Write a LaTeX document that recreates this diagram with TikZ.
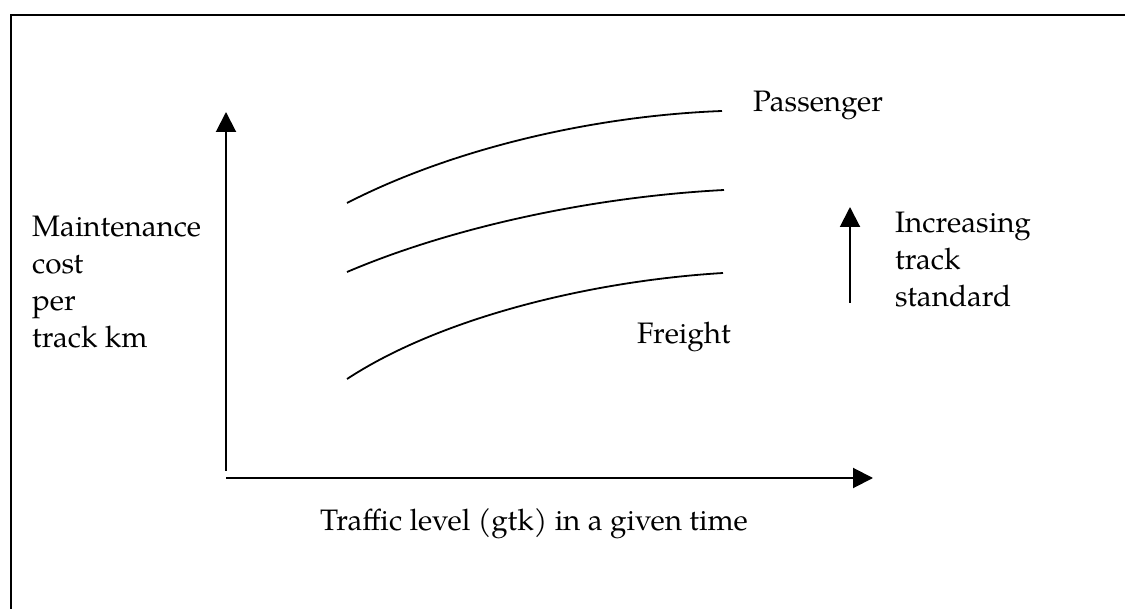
\documentclass[tikz,border=0pt]{standalone}
\usepackage{fontspec}
\setmainfont{TeX Gyre Pagella}
\usetikzlibrary{arrows.meta}
\tikzset{
  axis/.style={line width=2pt, -{Triangle[length=20pt,width=20pt]}},
  curve/.style={line width=1.8pt},
  lbl/.style={anchor=base west, inner sep=0pt, font=\fontsize{29.6}{37}\selectfont},
}
\begin{document}
\begin{tikzpicture}[x=1pt,y=-1pt]
  \useasboundingbox (0,0) rectangle (1125,609);
  \clip (0,0) rectangle (1125,609);
  % outer frame
  \draw[line width=2.4pt] (11,15) rectangle (1140,640);

  % axes
  \coordinate (o) at (226,478);
  \coordinate (ytop) at (226,112);
  \coordinate (xend) at (873,478);
  \coordinate (ybot) at (226,471);
  \draw[axis] (ybot) -- (ytop);
  \draw[axis] (o) -- (xend);

  % cost curves, one per track standard
  \coordinate (pa) at (347,203);  \coordinate (pb) at (722,111);
  \coordinate (ma) at (347,272);  \coordinate (mb) at (724,190);
  \coordinate (fa) at (347,379);  \coordinate (fb) at (723,273);
  \draw[curve] (pa) .. controls (450,150) and (590,116) .. (pb);
  \draw[curve] (ma) .. controls (450,228) and (590,197) .. (mb);
  \draw[curve] (fa) .. controls (440,318) and (590,281) .. (fb);

  % direction of increasing standard
  \coordinate (sa) at (850,303);
  \coordinate (sb) at (850,207);
  \draw[axis] (sa) -- (sb);

  % labels
  \node[lbl] (ylab) at (32,237) {\begin{tabular}[t]{@{}l@{}}Maintenance\\cost\\per\\track km\end{tabular}};
  \node[lbl] (stdlab) at (895,233) {\begin{tabular}[t]{@{}l@{}}Increasing\\track\\standard\end{tabular}};
  \node[lbl] (pass) at (753,112) {Passenger};
  \node[lbl] (frt) at (637,344) {Freight};
  \node[lbl] (xlab) at (320,530) {Traffic level (gtk) in a given time};
\end{tikzpicture}
\end{document}
